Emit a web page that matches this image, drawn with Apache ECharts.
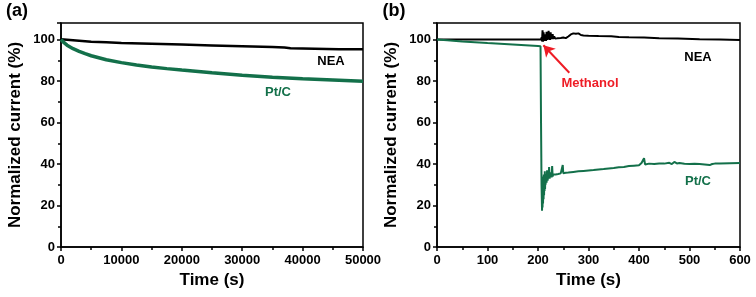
<!DOCTYPE html>
<html>
<head>
<meta charset="utf-8">
<script src="https://cdn.jsdelivr.net/npm/echarts@6/dist/echarts.min.js"></script>
<style>
  html, body { margin: 0; padding: 0; background: #fff; }
  #chart { width: 756px; height: 297px; }
</style>
</head>
<body>
<div id="chart"></div>
<script>
// panel (a): long-term stability, time in s
let neaA = [[0,100.2],[2500,99.6],[5000,99],[7500,98.7],[10000,98.4],[15000,98],[20000,97.6],
    [25000,97.2],[30000,96.8],[35000,96.4],[37000,96.2],[38000,95.8],[42000,95.6],[46000,95.4],[50000,95.3]];
let ptcA = [[0,100],[500,98.5],[1000,97.3],[2000,95.6],[3000,94.3],[4000,93.2],[5000,92.2],[7500,90.3],
    [10000,88.9],[12500,87.8],[15000,86.8],[17500,86],[20000,85.3],[25000,84],[30000,82.8],[35000,81.9],
    [40000,81.1],[45000,80.5],[50000,79.9]];

// panel (b): methanol added at ~205 s
let neaB = [[0,100],[50,100],[100,100],[150,100],[200,100],[206,100],[207,101],[208,99.2],[209,104.5],
    [210,99],[211,103.5],[212,99.3],[213,102.5],[214,99.5],[215,101.8],[216,99.4],[217,103.8],[218,99.8],
    [219,102.5],[220,100],[221,104.2],[222,100.2],[223,102],[224,99.8],[225,103.5],[226,100.3],[227,101.5],
    [228,100.2],[229,102.6],[230,100.4],[232,101.5],[234,100.5],[236,101.3],[238,100.6],[240,101],[245,100.8],
    [250,101],[255,100.7],[260,101.5],[265,102.5],[270,103],[275,102.8],[280,103],[285,102.2],[290,102],
    [300,101.8],[320,101.7],[345,101.6],[360,101.3],[380,101.1],[410,101],[440,100.7],[477,100.5],
    [520,100.2],[560,100],[600,99.8]];
let ptcB = [[0,100],[20,99.7],[50,99.1],[100,98.3],[150,97.6],[200,96.9],[205,96.8],[206,60],[207,30],
    [208,17.5],[208.5,33],[209,19],[209.5,34],[210,21],[210.5,33],[211,23],[211.5,35],[212,25],[212.5,33],
    [213,27],[213.5,36.5],[214,28],[214.5,34],[215,30],[216,35],[217,31],[218,37],[219,32],[220,34],
    [221,33],[222,38.5],[223,33],[224,35],[225,33.5],[226,36],[227,33.5],[228,39],[229,34],[230,35],
    [232,34.5],[235,35],[238,34.8],[240,35.2],[245,35.5],[248,35.3],[249,39.5],[250,35.6],[255,35.8],
    [260,35.9],[270,36.2],[280,36.5],[290,36.7],[300,36.9],[310,37.1],[320,37.4],[330,37.6],[340,37.9],
    [350,38.1],[360,38.4],[370,38.6],[380,39],[390,39.2],[400,39.4],[405,40.5],[408,39.6],[410,42.8],
    [412,39.8],[420,40.2],[430,40],[440,40.3],[450,40.2],[460,40.6],[465,40],[470,41],[475,40.3],
    [480,40.5],[490,40.1],[500,40],[510,40.1],[520,40],[530,39.8],[540,39.5],[545,40],[550,40.2],
    [560,40.3],[580,40.4],[600,40.5]];

// arrow for the methanol note (tail, head) in data units of panel (b)
let arrowB = [[262, 84], [210.7, 97.3]];

let green = '#13704a';
let font = 'Liberation Sans, Arial, sans-serif';

function xAxisFor(grid, max, interval) {
    return {
        type: 'value', gridIndex: grid, min: 0, max: max, interval: interval,
        name: 'Time (s)', nameLocation: 'middle', nameGap: 24,
        nameTextStyle: { fontSize: 17, fontWeight: 'bold', color: '#000', fontFamily: font },
        axisLine: { lineStyle: { color: '#000', width: 1.5 } },
        axisTick: { inside: false, length: 4, lineStyle: { color: '#000', width: 1.5 } },
        minorTick: { show: true, splitNumber: 2, length: 3, lineStyle: { color: '#000', width: 1.5 } },
        splitLine: { show: false },
        axisLabel: { fontSize: 13, fontWeight: 'bold', color: '#000', margin: 7, fontFamily: font,
            formatter: function (v) { return String(v); } }
    };
}

function yAxisFor(grid) {
    return {
        type: 'value', gridIndex: grid, min: 0, max: 108, interval: 20,
        name: 'Normalized current (%)', nameLocation: 'middle', nameGap: 37,
        nameTextStyle: { fontSize: 17, fontWeight: 'bold', color: '#000', fontFamily: font },
        axisLine: { show: true, lineStyle: { color: '#000', width: 1.5 } },
        axisTick: { inside: false, length: 4, lineStyle: { color: '#000', width: 1.5 } },
        minorTick: { show: true, splitNumber: 2, length: 3, lineStyle: { color: '#000', width: 1.5 } },
        splitLine: { show: false },
        axisLabel: { fontSize: 13, fontWeight: 'bold', color: '#000', margin: 6, showMaxLabel: false, fontFamily: font }
    };
}

function line(grid, data, color, width) {
    return {
        type: 'line', xAxisIndex: grid, yAxisIndex: grid, data: data,
        showSymbol: false, symbol: 'none', animation: false,
        lineStyle: { color: color, width: width }
    };
}

function label(text, x, y, color, size) {
    return {
        type: 'text', x: x, y: y,
        style: { text: text, fill: color, font: 'bold ' + size + 'px ' + font, align: 'center', verticalAlign: 'middle' }
    };
}

let myChart = echarts.init(document.getElementById('chart'));

let arrowSeries = line(1, ptcB, green, 2);
arrowSeries.markLine = {
    silent: true, animation: false,
    symbol: ['none', 'arrow'], symbolSize: [10, 11],
    label: { show: false },
    lineStyle: { color: '#ee1c25', width: 2, type: 'solid' },
    data: [[{ coord: arrowB[0] }, { coord: arrowB[1] }]]
};

let option = {
    backgroundColor: '#fff',
    animation: false,
    grid: [
        { left: 61, top: 23, width: 302, height: 224, show: true, borderColor: '#000', borderWidth: 1.5 },
        { left: 437, top: 23, width: 303, height: 224, show: true, borderColor: '#000', borderWidth: 1.5 }
    ],
    xAxis: [xAxisFor(0, 50000, 10000), xAxisFor(1, 600, 100)],
    yAxis: [yAxisFor(0), yAxisFor(1)],
    series: [
        line(0, neaA, '#000', 2.5),
        line(0, ptcA, green, 3.5),
        line(1, neaB, '#000', 2),
        arrowSeries
    ],
    graphic: [
        label('(a)', 17, 11, '#000', 18),
        label('(b)', 394, 11, '#000', 18),
        label('NEA', 331, 61, '#000', 13),
        label('Pt/C', 278, 92, green, 13),
        label('NEA', 698, 57, '#000', 13),
        label('Methanol', 590, 83, '#ee1c25', 13),
        label('Pt/C', 698, 181, green, 13)
    ]
};

myChart.setOption(option);
</script>
</body>
</html>
